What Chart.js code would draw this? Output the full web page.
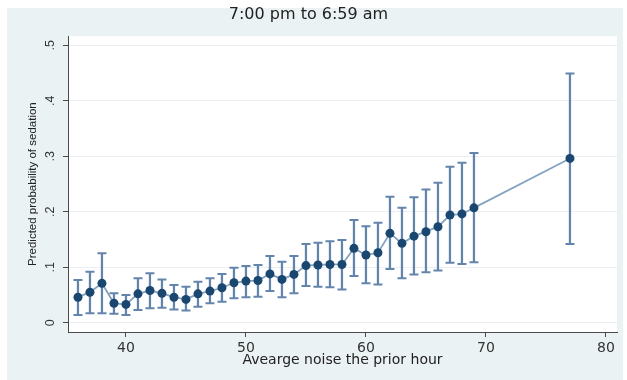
<!DOCTYPE html>
<html>
<head>
  <meta charset="UTF-8">
  <title>Predicted probability of sedation</title>
  <script src="https://cdn.jsdelivr.net/npm/chart.js@4.4.1/dist/chart.umd.min.js"></script>
</head>
<style>
  body { margin: 0; background: #ffffff; }
  canvas { display: block; }
</style>
<body>
  <canvas id="myChart" width="627" height="380"></canvas>
</body>

<script type="text/javascript">
  // average noise (dB) of the prior hour
  var noise = [36, 37, 38, 39, 40, 41, 42, 43, 44, 45, 46, 47, 48, 49, 50, 51, 52, 53,
    54, 55, 56, 57, 58, 59, 60, 61, 62, 63, 64, 65, 66, 67, 68, 69, 77];
  // predicted probability and its 95% CI
  var prob = [.046, .055, .071, .035, .033, .052, .058, .053, .046, .042, .052, .057, .063,
    .072, .075, .076, .088, .078, .087, .103, .104, .105, .105, .134, .122, .126, .161,
    .143, .156, .164, .173, .194, .196, .207, .296];
  var upper = [.077, .092, .125, .053, .050, .080, .089, .078, .068, .065, .074, .080, .088,
    .099, .102, .104, .120, .110, .120, .142, .144, .147, .149, .185, .174, .180, .227,
    .207, .226, .240, .252, .281, .288, .306, .449];
  var lower = [.014, .017, .017, .016, .014, .023, .026, .027, .024, .022, .029, .035, .038,
    .044, .046, .047, .057, .046, .053, .066, .065, .064, .060, .084, .071, .069, .097,
    .080, .087, .091, .094, .108, .106, .109, .142];

  var xTicks = [40, 50, 60, 70, 80];
  var yTicks = [0, .1, .2, .3, .4, .5];
  var yTickLabels = ['0', '.1', '.2', '.3', '.4', '.5'];

  var navy = '#1a476f';
  var ciColor = '#6485ab';
  var lineColor = '#86a2c0';
  var axisColor = '#4a4a4a';

  // grey-blue graph region, white plot region, upright y tick labels
  var frame = {
    id: 'frame',
    beforeDraw: function (chart) {
      var ctx = chart.ctx, a = chart.chartArea;
      ctx.save();
      ctx.fillStyle = '#ffffff';
      ctx.fillRect(0, 0, chart.width, chart.height);
      ctx.fillStyle = '#eaf2f3';
      ctx.fillRect(7, 8, chart.width - 11, chart.height - 8);
      ctx.fillStyle = '#ffffff';
      ctx.fillRect(a.left, a.top, a.right - a.left, a.bottom - a.top);
      ctx.restore();
    },
    afterDraw: function (chart) {
      var ctx = chart.ctx, y = chart.scales.y;
      ctx.save();
      ctx.font = '12.5px "Liberation Sans"';
      ctx.fillStyle = '#333333';
      ctx.textAlign = 'center';
      ctx.textBaseline = 'middle';
      for (var i = 0; i < yTicks.length; i++) {
        ctx.save();
        ctx.translate(51, y.getPixelForValue(yTicks[i]));
        ctx.rotate(-Math.PI / 2);
        ctx.fillText(yTickLabels[i], 0, 0);
        ctx.restore();
      }
      ctx.restore();
    }
  };

  function chartjs() {
    var pts = [], bars = [], caps = [];
    for (var i = 0; i < noise.length; i++) {
      pts.push({ x: noise[i], y: prob[i] });
      bars.push({ x: noise[i], y: [lower[i], upper[i]] });
      caps.push({ x: noise[i], y: lower[i] });
      caps.push({ x: noise[i], y: upper[i] });
    }

    var ctx = document.getElementById('myChart');
    var myChart = new Chart(ctx, {
      type: 'scatter',
      data: {
        datasets: [{
          type: 'line',
          data: pts,
          showLine: true,
          borderColor: lineColor,
          borderWidth: 1.8,
          pointRadius: 4.5,
          pointBackgroundColor: navy,
          pointBorderColor: navy,
          pointBorderWidth: 0,
          order: 0
        }, {
          type: 'scatter',
          data: caps,
          pointStyle: 'line',
          pointRadius: 4.5,
          borderColor: ciColor,
          borderWidth: 2,
          order: 1
        }, {
          type: 'bar',
          data: bars,
          barThickness: 1.6,
          grouped: false,
          backgroundColor: ciColor,
          borderWidth: 0,
          order: 2
        }]
      },
      options: {
        responsive: false,
        animation: false,
        layout: { padding: { left: 0, right: 10, top: 0, bottom: 0 } },
        plugins: {
          legend: { display: false },
          tooltip: { enabled: false },
          title: {
            display: true,
            text: '7:00 pm to 6:59 am',
            color: '#222222',
            font: { family: 'DejaVu Sans', size: 16, weight: 'normal' },
            padding: { top: 5, bottom: 12 }
          }
        },
        scales: {
          x: {
            type: 'linear',
            min: 35.17,
            max: 80.92,
            offset: false,
            afterBuildTicks: function (scale) {
              scale.ticks = xTicks.map(function (v) { return { value: v }; });
            },
            afterFit: function (scale) { scale.height = 48; },
            grid: { offset: false, drawOnChartArea: false, drawTicks: true, tickLength: 5, tickColor: axisColor },
            border: { display: true, color: axisColor, width: 1 },
            ticks: {
              color: '#333333',
              padding: 3,
              maxRotation: 0,
              font: { family: 'DejaVu Sans', size: 14 }
            },
            title: {
              display: true,
              text: 'Avearge noise the prior hour',
              color: '#222222',
              font: { family: 'DejaVu Sans', size: 14 },
              padding: { top: 0, bottom: 11 }
            }
          },
          y: {
            type: 'linear',
            min: -0.0167,
            max: 0.5162,
            afterBuildTicks: function (scale) {
              scale.ticks = yTicks.map(function (v) { return { value: v }; });
            },
            afterFit: function (scale) { scale.width = 68; },
            grid: { color: '#e9eef2', lineWidth: 1, drawTicks: true, tickLength: 5, tickColor: axisColor },
            border: { display: true, color: axisColor, width: 1 },
            ticks: { display: false },
            title: {
              display: true,
              text: 'Predicted probability of sedation',
              color: '#222222',
              font: { family: 'Liberation Sans', size: 11.5 },
              padding: { top: 26, bottom: 0 }
            }
          }
        }
      },
      plugins: [frame]
    });
  }

  chartjs();
</script>
</html>
